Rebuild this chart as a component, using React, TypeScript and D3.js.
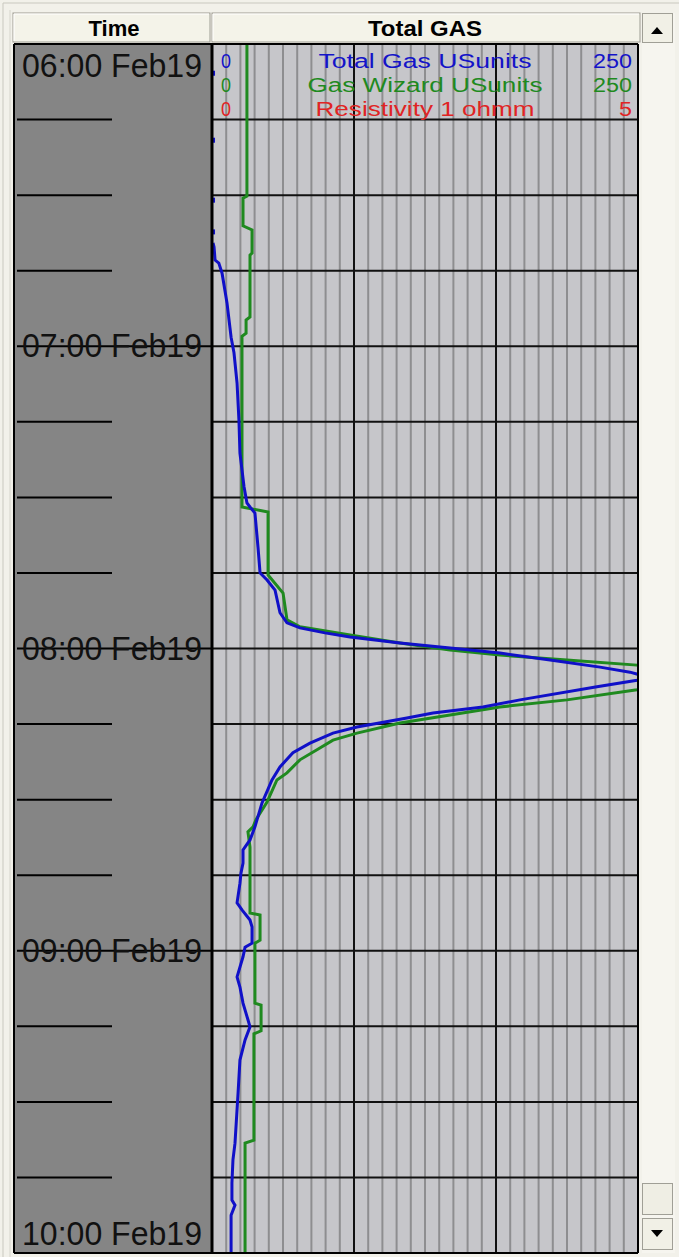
import React from "react";
import * as d3 from "d3";

// ---- data (minutes after 06:00 Feb19, values in USunits) ----
const timeTickMinutes = [0, 60, 120, 180, 240];
const timeTickLabels = ["06:00 Feb19", "07:00 Feb19", "08:00 Feb19", "09:00 Feb19", "10:00 Feb19"];
const quarterMinutes = [15, 30, 45, 60, 75, 90, 105, 120, 135, 150, 165, 180, 195, 210, 225];

const totalGasMinutes = [
  39.5, 40.3, 42.9, 43.5, 45.5, 51.4, 58.2, 61.3, 67.3, 74.6, 81.2, 87.9, 91.1, 91.9, 93.1, 99.9,
  105.0, 106.4, 108.4, 112.9, 114.9, 115.9, 116.9, 117.7, 118.9, 119.9, 120.9, 122.3, 123.7, 124.7,
  125.5, 126.3, 127.6, 130.2, 131.6, 132.8, 133.8, 135.6, 136.8, 138.8, 140.7, 143.5, 146.1, 150.7,
  155.4, 158.0, 160.0, 162.6, 164.6, 166.6, 170.5, 171.9, 173.9, 175.3, 178.5, 179.3, 181.2, 185.2,
  187.2, 190.4, 193.7, 195.1, 197.7, 201.7, 208.2, 218.2, 221.5, 226.1, 229.5, 230.5, 232.5, 240,
];
const totalGasValues = [
  0.6, 1.2, 1.8, 4.0, 5.9, 8.8, 11.2, 12.9, 14.7, 15.8, 16.4, 18.8, 20.5, 22.3, 25.2, 27.0,
  28.2, 32.3, 37.0, 39.9, 44.0, 51.6, 66.3, 81.0, 110.3, 139.7, 169.0, 198.4, 227.7, 245.3,
  254, 249.4, 225.9, 180.7, 159.0, 129.7, 114.4, 85.1, 71.0, 57.5, 47.5, 39.9, 35.2, 29.3,
  25.2, 22.3, 18.2, 18.2, 17.0, 16.4, 14.7, 17.6, 22.3, 23.5, 23.5, 19.4, 18.2, 14.7,
  16.4, 18.2, 21.1, 22.3, 19.4, 16.4, 15.3, 13.5, 12.3, 11.7, 11.7, 13.5, 11.2, 11.2,
];
const totalGasSparseMinutes = [5.8, 19.1, 31.0, 37.3];
const totalGasSparseValues = [0.6, 0.6, 0.6, 0.6];

const gasWizardMinutes = [
  0, 30.2, 30.6, 36.1, 36.9, 41.5, 41.9, 54.2, 54.8, 57.4, 58.0, 91.9, 92.9, 105.4, 109.0, 114.3,
  115.7, 117.3, 118.9, 120.3, 121.3, 122.3, 123.3, 125.7, 128.2, 130.2, 131.6, 133.2, 134.8, 136.8,
  138.2, 140.1, 142.1, 144.7, 146.1, 150.5, 154.0, 155.4, 156.4, 159.4, 172.5, 172.9, 177.9, 178.5,
  190.4, 190.8, 195.9, 196.5, 217.6, 218.2, 240,
];
const gasWizardValues = [
  20.5, 20.5, 18.2, 18.2, 23.5, 23.5, 22.3, 22.3, 20.0, 20.0, 17.6, 17.6, 32.9, 32.9, 41.7, 44.0,
  51.6, 81.0, 110.3, 139.7, 169.0, 208.3, 249.4, 275, 249.4, 208.3, 169.0, 139.7, 110.3, 85.1,
  71.0, 61.6, 51.6, 44.0, 38.1, 32.3, 25.8, 24.1, 21.1, 22.3, 22.3, 28.2, 28.2, 25.2,
  25.2, 28.8, 28.8, 24.6, 24.6, 19.4, 19.4,
];

const legendNames = ["Total Gas USunits", "Gas Wizard USunits", "Resistivity 1 ohmm"];
const legendMin = ["0", "0", "0"];
const legendMax = ["250", "250", "5"];
const legendColors = ["#1414c8", "#1f8a1f", "#e02424"];
const legendNameWidths = [213, 235, 219];

const W = 679;
const H = 1257;
const TRACK_TOP = 44;
const TRACK_BOTTOM = 1253;
const TIME_L = 14;
const GAS_L = 212;
const GAS_R = 638;

export default function App() {
  const y = d3.scaleLinear().domain([0, 240]).range([TRACK_TOP, TRACK_BOTTOM]);
  const x = d3.scaleLinear().domain([0, 250]).range([GAS_L, GAS_R]);

  const line = d3
    .line<[number, number]>()
    .x((d) => x(d[1]))
    .y((d) => y(d[0]));

  const blueData = totalGasMinutes.map((t, i) => [t, totalGasValues[i]] as [number, number]);
  const greenData = gasWizardMinutes.map((t, i) => [t, gasWizardValues[i]] as [number, number]);

  const minorTicks = d3.range(0, 31).map((i) => (i * 250) / 30);
  const font = "'Liberation Sans', Arial, sans-serif";

  return (
    <div style={{ position: "absolute", left: 0, top: 0 }}>
      <svg width={W} height={H} style={{ display: "block" }}>
        <defs>
          <clipPath id="gasClip">
            <rect x={GAS_L} y={TRACK_TOP} width={GAS_R - GAS_L} height={TRACK_BOTTOM - TRACK_TOP} />
          </clipPath>
        </defs>
        <rect x={0} y={0} width={W} height={H} fill="#f2f1ea" />
        <line x1={3} y1={3} x2={W} y2={3} stroke="#c9c8bf" strokeWidth={1} />
        <line x1={3} y1={3} x2={3} y2={H} stroke="#c9c8bf" strokeWidth={1} />
        <line x1={10} y1={10} x2={10} y2={H} stroke="#d6d5cc" strokeWidth={1} />

        {/* header */}
        <rect x={13} y={13} width={197} height={29} fill="#f4f3e9" stroke="#9d9c92" strokeWidth={1} />
        <line x1={14} y1={14} x2={209} y2={14} stroke="#ffffff" />
        <line x1={14} y1={14} x2={14} y2={41} stroke="#ffffff" />
        <rect x={212} y={13} width={428} height={29} fill="#f4f3e9" stroke="#9d9c92" strokeWidth={1} />
        <line x1={213} y1={14} x2={639} y2={14} stroke="#ffffff" />
        <line x1={213} y1={14} x2={213} y2={41} stroke="#ffffff" />
        <text x={114} y={36} textAnchor="middle" fontFamily={font} fontWeight="bold" fontSize={22} textLength={51} lengthAdjust="spacingAndGlyphs" fill="#000">Time</text>
        <text x={425} y={36} textAnchor="middle" fontFamily={font} fontWeight="bold" fontSize={22} textLength={114} lengthAdjust="spacingAndGlyphs" fill="#000">Total GAS</text>

        {/* scrollbar */}
        <rect x={642} y={13} width={33} height={1240} fill="#f6f5ef" />
        <rect x={642.5} y={13.5} width={30} height={29} fill="#f1f0e6" stroke="#a09f96" />
        <path d="M651,34 L663,34 L657,27 Z" fill="#000" />
        <rect x={642.5} y={1183.5} width={30} height={31} fill="#efeee4" stroke="#a09f96" />
        <rect x={642.5} y={1218.5} width={30} height={31} fill="#f1f0e6" stroke="#a09f96" />
        <path d="M651,1230 L663,1230 L657,1237 Z" fill="#000" />

        {/* time track */}
        <rect x={TIME_L} y={TRACK_TOP} width={GAS_L - TIME_L} height={TRACK_BOTTOM - TRACK_TOP} fill="#858585" />
        {quarterMinutes.map((m) => (
          <line key={"tt" + m} x1={17} x2={m % 60 === 0 ? GAS_L : 112} y1={y(m)} y2={y(m)} stroke="#000" strokeWidth={2} />
        ))}
        {timeTickMinutes.map((m, i) => {
          let by = y(m) + 11;
          if (i === 0) by = 77;
          if (i === timeTickMinutes.length - 1) by = 1245;
          return (
            <text key={"tl" + m} x={22} y={by} fontFamily={font} fontSize={33} textLength={180} lengthAdjust="spacingAndGlyphs" fill="#111">
              {timeTickLabels[i]}
            </text>
          );
        })}

        {/* gas track */}
        <rect x={GAS_L} y={TRACK_TOP} width={GAS_R - GAS_L} height={TRACK_BOTTOM - TRACK_TOP} fill="#c6c6ca" />
        {minorTicks.map((v, i) =>
          i % 10 === 0 ? null : (
            <line key={"mv" + i} x1={x(v)} x2={x(v)} y1={TRACK_TOP} y2={TRACK_BOTTOM} stroke="#8e8e90" strokeWidth={2} />
          )
        )}
        {quarterMinutes.map((m) => (
          <line key={"hg" + m} x1={GAS_L} x2={GAS_R} y1={y(m)} y2={y(m)} stroke="#111" strokeWidth={2} />
        ))}
        {minorTicks.map((v, i) =>
          i % 10 === 0 && i > 0 && i < 30 ? (
            <line key={"Mv" + i} x1={x(v)} x2={x(v)} y1={TRACK_TOP} y2={TRACK_BOTTOM} stroke="#111" strokeWidth={2} />
          ) : null
        )}

        {/* legend */}
        {legendNames.map((n, i) => {
          const by = 68 + i * 24;
          return (
            <g key={"lg" + i} fontFamily={font} fontSize={20} fill={legendColors[i]}>
              <text x={221} y={by} textLength={10} lengthAdjust="spacingAndGlyphs">{legendMin[i]}</text>
              <text x={425} y={by} textAnchor="middle" textLength={legendNameWidths[i]} lengthAdjust="spacingAndGlyphs">{n}</text>
              <text x={632} y={by} textAnchor="end" textLength={legendMax[i].length * 13} lengthAdjust="spacingAndGlyphs">{legendMax[i]}</text>
            </g>
          );
        })}

        {/* curves */}
        <g clipPath="url(#gasClip)">
          <path d={line(greenData) || ""} fill="none" stroke="#1f8a1f" strokeWidth={3} strokeLinejoin="miter" />
          <path d={line(blueData) || ""} fill="none" stroke="#1010c8" strokeWidth={3} strokeLinejoin="miter" />
          {totalGasSparseMinutes.map((t, i) => (
            <rect key={"sp" + i} x={x(totalGasSparseValues[i]) - 2} y={y(t) - 2.5} width={4} height={5} fill="#1010c8" />
          ))}
        </g>

        {/* borders */}
        <line x1={GAS_L} x2={GAS_L} y1={TRACK_TOP} y2={TRACK_BOTTOM} stroke="#000" strokeWidth={3} />
        <line x1={GAS_R} x2={GAS_R} y1={TRACK_TOP} y2={TRACK_BOTTOM} stroke="#000" strokeWidth={2} />
        <line x1={TIME_L} x2={GAS_R} y1={TRACK_TOP} y2={TRACK_TOP} stroke="#000" strokeWidth={2} />
        <line x1={TIME_L} x2={GAS_R} y1={TRACK_BOTTOM} y2={TRACK_BOTTOM} stroke="#000" strokeWidth={2} />
        <line x1={TIME_L} x2={TIME_L} y1={TRACK_TOP} y2={TRACK_BOTTOM} stroke="#000" strokeWidth={2} />
      </svg>
    </div>
  );
}
